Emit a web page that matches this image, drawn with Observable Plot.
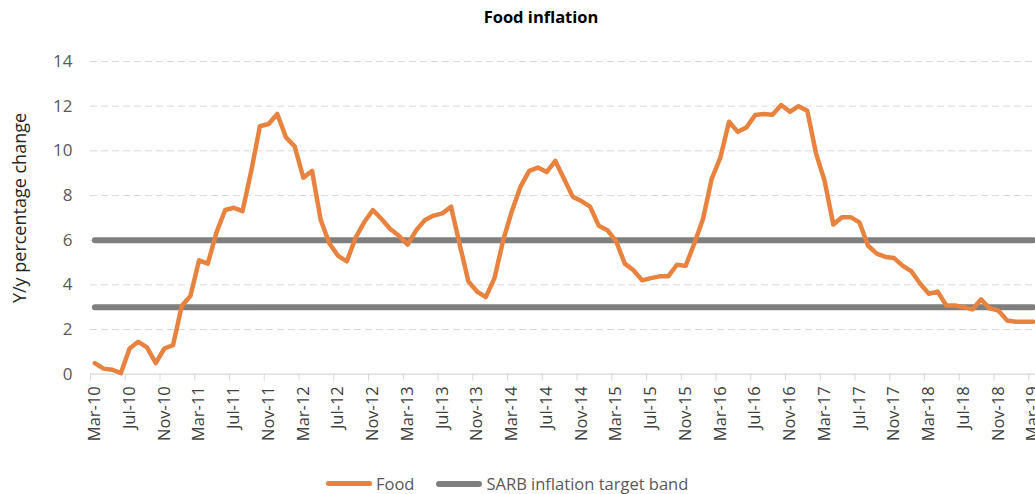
<!DOCTYPE html>
<html>
<head>
<meta charset="utf-8">
<script src="https://cdn.jsdelivr.net/npm/d3@7"></script>
<script src="https://cdn.jsdelivr.net/npm/@observablehq/plot@0.6"></script>
<style>
  html, body { margin: 0; padding: 0; background: #fff; overflow: hidden; }
  body { width: 1035px; height: 494px; position: relative; font-family: "Open Sans", sans-serif; }
  #title { position: absolute; left: 0; top: 5px; width: 1082px; text-align: center; font-weight: bold; font-size: 16.5px; color: #000; }
  #ylabel { position: absolute; left: 19px; top: 208px; width: 0; height: 0; }
  #ylabel span { position: absolute; left: 0; top: 0; display: inline-block; width: max-content; white-space: nowrap; transform: translate(-50%, -50%) rotate(-90deg); font-size: 18px; color: #262626; }
  #chart { position: absolute; left: 0; top: 34px; }
  #legend { position: absolute; left: 326px; top: 472px; display: flex; align-items: center; font-size: 16.5px; color: #595959; white-space: nowrap; }
  .sw { display: inline-block; width: 46px; height: 5px; border-radius: 3px; margin-right: 4px; }
</style>
</head>
<body>
<div id="title">Food inflation</div>
<div id="ylabel"><span>Y/y percentage change</span></div>
<div id="chart"></div>
<div id="legend">
  <span class="sw" style="background:#E8833F"></span><span style="margin-right:22px">Food</span>
  <span class="sw" style="background:#7F7F7F;height:6px"></span><span>SARB inflation target band</span>
</div>
<script>
// Monthly food inflation, Mar-10 .. Mar-19 (y/y %)
const food = [
  0.5, 0.25, 0.2, 0.05, 1.15, 1.45, 1.2, 0.5, 1.15, 1.3,
  3.05, 3.5, 5.1, 4.95, 6.35, 7.35, 7.45, 7.3, 9.1, 11.1,
  11.2, 11.65, 10.6, 10.2, 8.8, 9.1, 6.9, 5.85, 5.3, 5.05,
  6.1, 6.8, 7.35, 6.95, 6.5, 6.2, 5.8, 6.45, 6.9, 7.1,
  7.2, 7.5, 5.8, 4.15, 3.7, 3.45, 4.3, 6.0, 7.3, 8.4,
  9.1, 9.25, 9.05, 9.55, 8.75, 7.95, 7.75, 7.5, 6.65, 6.45,
  5.95, 4.95, 4.65, 4.2, 4.3, 4.38, 4.38, 4.9, 4.85, 5.85,
  6.95, 8.75, 9.7, 11.3, 10.85, 11.05, 11.6, 11.65, 11.62, 12.05,
  11.75, 12.0, 11.8, 9.9, 8.65, 6.7, 7.03, 7.03, 6.8, 5.75,
  5.4, 5.25, 5.2, 4.85, 4.6, 4.05, 3.6, 3.7, 3.08, 3.08,
  3.0, 2.9, 3.35, 2.95, 2.85, 2.4, 2.35, 2.35, 2.35
];
// SARB inflation target band bounds
const bandLower = 3;
const bandUpper = 6;
// Category axis labels (every 4th month)
const tickLabels = ["Mar-10","Jul-10","Nov-10","Mar-11","Jul-11","Nov-11","Mar-12","Jul-12","Nov-12",
  "Mar-13","Jul-13","Nov-13","Mar-14","Jul-14","Nov-14","Mar-15","Jul-15","Nov-15",
  "Mar-16","Jul-16","Nov-16","Mar-17","Jul-17","Nov-17","Mar-18","Jul-18","Nov-18","Mar-19"];
const yTicks = [0, 2, 4, 6, 8, 10, 12, 14];

const foodData = food.map((v, i) => ({i, v}));
const n = food.length;
const bandData = [];
for (const b of [bandLower, bandUpper]) {
  bandData.push({i: 0, v: b, b}, {i: n - 1, v: b, b});
}
const labelPos = tickLabels.map((_, k) => k * 4);
const tickPos = tickLabels.map((_, k) => k * 4 - 0.5);

const chart = Plot.plot({
  width: 1035,
  height: 432,
  marginLeft: 90,
  marginRight: 0,
  marginTop: 27,
  marginBottom: 92.3,
  style: {fontFamily: "Open Sans, sans-serif", fontSize: "16px", overflow: "visible"},
  x: {type: "linear", domain: [-0.5, 108.27]},
  y: {domain: [0, 14]},
  marks: [
    Plot.ruleY(yTicks.filter(d => d > 0), {stroke: "#d9d9d9", strokeDasharray: "7,4", strokeWidth: 1}),
    Plot.ruleY([0], {stroke: "#d9d9d9", strokeWidth: 1.2}),
    Plot.axisY({ticks: yTicks, tickSize: 0, tickPadding: 18, label: null, fill: "#595959", fontSize: 17}),
    Plot.axisX({ticks: tickPos, tickSize: 7, tickFormat: () => "", stroke: "#d9d9d9", label: null}),
    Plot.axisX({ticks: labelPos, tickSize: 0, tickPadding: 12, tickRotate: -90,
      tickFormat: d => tickLabels[d / 4], label: null, fill: "#404040", fontSize: 16.5}),
    Plot.line(bandData, {x: "i", y: "v", z: "b", stroke: "#7F7F7F", strokeWidth: 6, strokeLinecap: "round"}),
    Plot.line(foodData, {x: "i", y: "v", stroke: "#E8833F", strokeWidth: 4.5, strokeLinejoin: "round", strokeLinecap: "round"})
  ]
});
document.getElementById("chart").appendChild(chart);
</script>
</body>
</html>
